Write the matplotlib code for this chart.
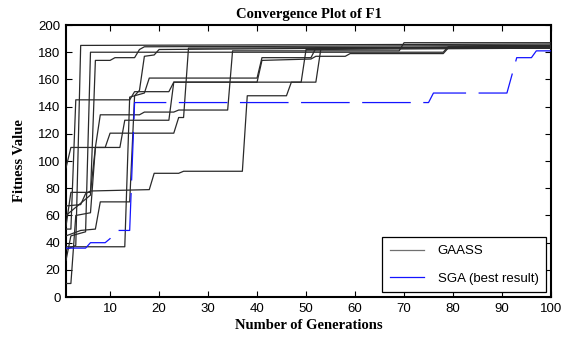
import matplotlib
matplotlib.use("Agg")
import matplotlib.pyplot as plt

# GAASS runs: (generation, best fitness) breakpoints
gaass_gen = [
    [1, 3, 4, 100],
    [1, 2, 5, 6, 78, 79, 100],
    [1, 6, 7, 10, 11, 15, 16, 17, 100],
    [1, 2, 3, 14, 15, 22, 23, 40, 41, 51, 52, 58, 59, 78, 79, 100],
    [1, 2, 7, 8, 16, 17, 23, 24, 34, 35, 69, 70, 100],
    [1, 2, 6, 7, 9, 10, 23, 24, 25, 26, 100],
    [1, 4, 7, 8, 14, 15, 16, 17, 19, 20, 100],
    [1, 4, 5, 6, 18, 19, 24, 25, 37, 38, 46, 47, 49, 50, 100],
    [1, 13, 14, 17, 18, 40, 41, 51, 52, 100],
    [1, 2, 3, 6, 7, 12, 13, 22, 23, 52, 53, 60, 100],
]
gaass_fit = [
    [35, 38, 185, 186],
    [27, 45, 48, 180, 180, 184, 184],
    [60, 75, 174, 174, 176, 176, 182, 184, 185],
    [50, 50, 145, 145, 151, 151, 158, 158, 174, 175, 177, 177, 179, 179, 183, 183],
    [95, 110, 110, 134, 134, 136, 136, 137.5, 137.5, 181, 181, 187, 187],
    [52, 77, 77, 110, 110, 120.5, 120.5, 132, 132, 183, 184],
    [45, 49, 50, 70, 70, 148, 152, 177, 178, 182, 184],
    [67, 68, 76, 78, 79, 91, 91, 92.5, 92.5, 148, 148, 158, 158, 182, 183],
    [37, 37, 147, 150, 161, 161, 176, 176, 183, 184],
    [10, 10, 60, 62, 110, 110, 130, 130, 158, 158, 182, 183, 183],
]

# SGA best run
sga_gen = [1, 5, 6, 9, 10, 11, 14, 15, 75, 76, 91, 93, 96, 97, 100]
sga_fit = [36, 36, 40, 40, 43, 49, 49, 143, 143, 150, 150, 176, 176, 181, 181]

xticks = [10, 20, 30, 40, 50, 60, 70, 80, 90, 100]
yticks = [0, 20, 40, 60, 80, 100, 120, 140, 160, 180, 200]

plt.rcParams['lines.scale_dashes'] = False
plt.rcParams['font.family'] = ['Liberation Sans', 'DejaVu Sans']

fig = plt.figure(figsize=(5.64, 3.38), dpi=100)
ax = fig.add_axes([0.117, 0.121, 0.860, 0.805])

for i, (g, f) in enumerate(zip(gaass_gen, gaass_fit)):
    ax.plot(g, f, color='#2a2a2a', lw=0.9,
            label='GAASS' if i == 0 else None, zorder=3)

ax.plot(sga_gen, sga_fit, color='#1414ff', lw=0.9, dashes=(35, 9),
        label='SGA (best result)', zorder=4)

ax.set_xlim(1, 100)
ax.set_ylim(0, 200)
ax.set_xticks(xticks)
ax.set_yticks(yticks)
ax.tick_params(direction='in', length=4, width=0.8, top=True, right=True,
               labelsize=9.5, pad=4)
for sp in ax.spines.values():
    sp.set_linewidth(1.5)

serif = ['Liberation Serif', 'DejaVu Serif']
ax.set_title('Convergence Plot of F1', fontsize=10.5, fontweight='bold',
             family=serif, pad=5)
ax.set_xlabel('Number of Generations', fontsize=10.5, fontweight='bold',
              family=serif, labelpad=3)
ax.set_ylabel('Fitness Value', fontsize=10.5, fontweight='bold',
              family=serif, labelpad=9)

leg = ax.legend(loc='lower right', fontsize=9.5, frameon=True, fancybox=False,
                edgecolor='black', framealpha=1, labelspacing=1.15,
                handlelength=2.6, borderpad=0.6, handletextpad=1.0,
                borderaxespad=0.35)
leg.get_frame().set_linewidth(0.9)
leg.get_lines()[0].set_color('#707070')
leg.get_lines()[1].set_linestyle('-')

fig.savefig('out.png', dpi=100)
